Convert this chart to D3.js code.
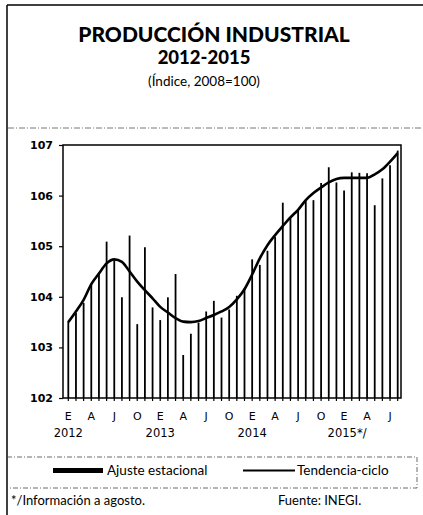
<!DOCTYPE html>
<html><head><meta charset="utf-8">
<script src="https://cdn.jsdelivr.net/npm/d3@7"></script>
<style>body{margin:0;background:#fff}svg{display:block}</style>
</head><body>
<svg id="c" width="423" height="515"></svg>
<script>
// Data: monthly, Jan 2012 .. Aug 2015
const startYear = 2012, startMonth = 0, nMonths = 44;
const ajusteEstacional = [103.52,103.68,103.88,104.25,104.48,105.09,104.72,103.99,105.21,103.46,104.98,103.79,
  103.54,103.99,104.45,102.85,103.27,103.49,103.71,103.92,103.59,103.75,104.02,104.17,
  104.74,104.63,104.91,105.18,105.86,105.58,105.70,105.89,105.91,106.25,106.56,106.26,
  106.10,106.46,106.45,106.44,105.81,106.34,106.60,106.89];
const tendenciaCiclo = [103.50,103.71,103.94,104.25,104.46,104.66,104.74,104.69,104.50,104.30,104.13,103.97,
  103.80,103.69,103.58,103.51,103.50,103.52,103.58,103.64,103.71,103.80,103.95,104.15,
  104.44,104.76,105.02,105.22,105.40,105.57,105.72,105.91,106.05,106.16,106.26,106.33,
  106.35,106.35,106.35,106.35,106.42,106.52,106.67,106.84];
const monthLabels = ["E","A","J","O"];
const yearLabels = ["2012","2013","2014","2015*/"];
const yTicks = [102,103,104,105,106,107];

const svg = d3.select("#c");
const plot = {l:63, r:401, t:145, b:398};

// Frame
svg.append("line").attr("x1",7).attr("x2",7).attr("y1",5).attr("y2",515).attr("stroke","#000").attr("stroke-width",1.5);
svg.append("line").attr("x1",7).attr("x2",423).attr("y1",5).attr("y2",5).attr("stroke","#000").attr("stroke-width",1.5);
svg.append("line").attr("x1",8).attr("x2",423).attr("y1",128).attr("y2",128).attr("stroke","#555").attr("stroke-width",0.8).attr("stroke-dasharray","6,2,1,2");

// Titles
const tf = "Lato, 'Open Sans', sans-serif";
svg.append("text").attr("x",214).attr("y",42).attr("text-anchor","middle")
  .attr("font-family",tf).attr("font-weight","900").attr("font-size",21).text("PRODUCCIÓN INDUSTRIAL");
svg.append("text").attr("x",204).attr("y",64).attr("text-anchor","middle")
  .attr("font-family",tf).attr("font-weight","900").attr("font-size",18.5).text("2012-2015");
svg.append("text").attr("x",204).attr("y",86).attr("text-anchor","middle")
  .attr("font-family",tf).attr("font-size",13.5).text("(Índice, 2008=100)");

const x = d3.scaleLinear().domain([0, nMonths-1]).range([68.3, 397.7]);
const y = d3.scaleLinear().domain([102,107]).range([plot.b, plot.t]);

// plot box
svg.append("rect").attr("x",plot.l).attr("y",plot.t).attr("width",plot.r-plot.l).attr("height",plot.b-plot.t)
  .attr("fill","none").attr("stroke","#000").attr("stroke-width",1.5);

// Bars
svg.append("g").selectAll("line").data(ajusteEstacional).join("line")
  .attr("x1",(d,i)=>x(i)).attr("x2",(d,i)=>x(i))
  .attr("y1",y(102)).attr("y2",d=>y(d))
  .attr("stroke","#000").attr("stroke-width",1.8);

// Trend line
const line = d3.line().x((d,i)=>x(i)).y(d=>y(d)).curve(d3.curveMonotoneX);
svg.append("path").datum(tendenciaCiclo).attr("d",line).attr("fill","none")
  .attr("stroke","#000").attr("stroke-width",2.6);

// Y axis
const yAxis = d3.axisLeft(y).tickValues(yTicks).tickSize(4).tickPadding(6).tickFormat(d3.format("d"));
const ga = svg.append("g").attr("transform",`translate(${plot.l},0)`).call(yAxis);
ga.select(".domain").remove();
ga.selectAll("text").attr("font-family","'DejaVu Sans', sans-serif").attr("font-size",11).attr("font-weight","bold").attr("fill","#000");
ga.selectAll("line").attr("stroke","#000").attr("stroke-width",1.2);

// X ticks (monthly)
const months = d3.range(nMonths);
svg.append("g").selectAll("line").data(months).join("line")
  .attr("x1",i=>x(i)).attr("x2",i=>x(i)).attr("y1",plot.b).attr("y2",plot.b+3)
  .attr("stroke","#000").attr("stroke-width",1.2);

// Month labels
svg.append("g").selectAll("text").data(months.filter(i=>i%3===0)).join("text")
  .attr("x",i=>x(i)).attr("y",420).attr("text-anchor","middle")
  .attr("font-family","'DejaVu Sans', sans-serif").attr("font-size",11)
  .text(i=>monthLabels[((startMonth+i)%12)/3]);

// Year labels
svg.append("g").selectAll("text").data(yearLabels).join("text")
  .attr("x",(d,k)=>x(k*12)+(k===3?3:0)).attr("y",437)
  .attr("text-anchor","middle")
  .attr("font-family","'DejaVu Sans', sans-serif").attr("font-size",11.5)
  .text(d=>d);

// Legend box
const lg = svg.append("g");
lg.append("rect").attr("x",7).attr("y",457).attr("width",410).attr("height",31)
  .attr("fill","none").attr("stroke","#444").attr("stroke-width",0.8).attr("stroke-dasharray","5,2,1,2");
lg.append("rect").attr("x",53).attr("y",468).attr("width",50).attr("height",5).attr("fill","#000");
lg.append("text").attr("x",107).attr("y",475).attr("font-family",tf).attr("font-size",13.5).text("Ajuste estacional");
lg.append("line").attr("x1",243).attr("x2",295).attr("y1",470.5).attr("y2",470.5).attr("stroke","#000").attr("stroke-width",2);
lg.append("text").attr("x",297).attr("y",475).attr("font-family",tf).attr("font-size",13.5).text("Tendencia-ciclo");

// Footer
svg.append("text").attr("x",11).attr("y",505).attr("font-family",tf).attr("font-size",13).text("*/Información a agosto.");
svg.append("text").attr("x",278).attr("y",505).attr("font-family",tf).attr("font-size",13).text("Fuente: INEGI.");
</script>
</body></html>
